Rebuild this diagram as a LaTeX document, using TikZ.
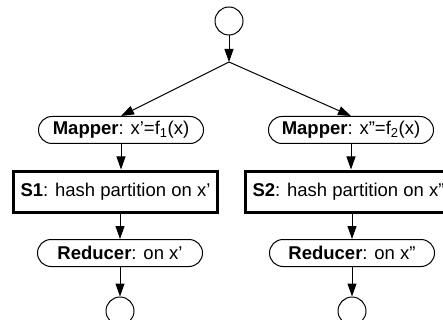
\documentclass[tikz,border=0pt]{standalone}
\usepackage{fontspec}
\setmainfont{Liberation Sans}
\usetikzlibrary{arrows.meta}
\begin{document}
\begin{tikzpicture}[x=1pt,y=-1pt,
  every node/.style={font=\fontsize{18.5}{22}\selectfont},
  endpt/.style={circle,draw,line width=1pt,minimum size=28pt,inner sep=0pt},
  stadium/.style={draw,line width=1pt,rounded corners=13.5pt,minimum height=27pt,minimum width=165pt,inner sep=0pt},
  stagebox/.style={draw,line width=3pt,minimum height=41pt,inner xsep=7pt,inner ysep=0pt},
  arr/.style={line width=1pt,-{Triangle[length=13pt,width=9pt]}}
]
\useasboundingbox (0,0) rectangle (443,320);
\clip (0,0) rectangle (443,320);
\node[endpt] (c0) at (229,21) {};
\coordinate (j) at (229,62);
\node[stadium] (m1) at (121,130) {\textbf{Mapper}: x’=f\textsubscript{1}(x)};
\node[stadium] (m2) at (351,130) {\textbf{Mapper}: x”=f\textsubscript{2}(x)};
\node[stagebox,anchor=west] (s1) at (12,191.5) {\textbf{S1}: hash partition on x’};
\node[stagebox,anchor=west] (s2) at (244,191.5) {\textbf{S2}: hash partition on x”};
\node[stadium] (r1) at (120,253) {\textbf{Reducer}: on x’};
\node[stadium] (r2) at (352,253) {\textbf{Reducer}: on x”};
\node[endpt] (e1) at (120,311) {};
\node[endpt] (e2) at (352,311) {};
\draw[arr] (c0) -- (j);
\draw[arr] (j) -- (m1.north);
\draw[arr] (j) -- (m2.north);
\draw[arr] (m1.south) -- (m1.south |- s1.north);
\draw[arr] (m2.south) -- (m2.south |- s2.north);
\draw[arr] (r1.north |- s1.south) -- (r1.north);
\draw[arr] (r2.north |- s2.south) -- (r2.north);
\draw[arr] (r1) -- (e1);
\draw[arr] (r2) -- (e2);
\end{tikzpicture}
\end{document}
